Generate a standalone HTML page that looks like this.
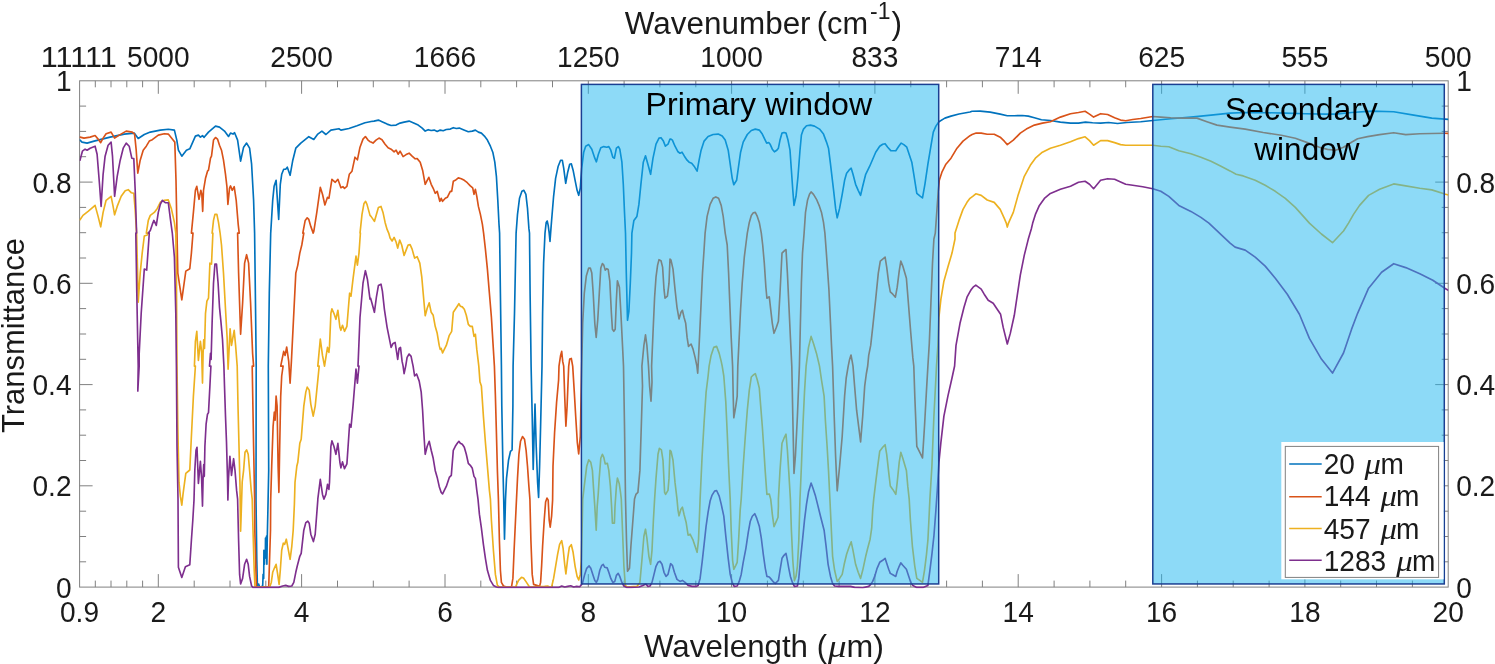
<!DOCTYPE html>
<html><head><meta charset="utf-8"><title>Transmittance</title>
<style>html,body{margin:0;padding:0;background:#fff}svg{display:block}text{font-family:"Liberation Sans",Arial,Helvetica,sans-serif;fill:#1a1a1a}text.mu{font-family:"Liberation Serif","DejaVu Serif",serif;font-style:italic}</style></head><body>
<svg width="1495" height="664" viewBox="0 0 1495 664">
<rect width="1495" height="664" fill="#fff"/>
<clipPath id="c"><rect x="79.6" y="79.8" width="1368.6" height="508.8"/></clipPath>
<g stroke="#808080" stroke-width="1" fill="none">
<rect x="79.6" y="80.8" width="1368.6" height="506.3"/>
<path d="M158.3 587.1 v-13 M158.3 80.8 v13 M301.6 587.1 v-13 M301.6 80.8 v13 M445.0 587.1 v-13 M445.0 80.8 v13 M588.3 587.1 v-13 M588.3 80.8 v13 M731.6 587.1 v-13 M731.6 80.8 v13 M874.9 587.1 v-13 M874.9 80.8 v13 M1018.2 587.1 v-13 M1018.2 80.8 v13 M1161.6 587.1 v-13 M1161.6 80.8 v13 M1304.9 587.1 v-13 M1304.9 80.8 v13 M95.3 587.1 v-6.5 M95.3 80.8 v6.5 M111.0 587.1 v-6.5 M111.0 80.8 v6.5 M126.8 587.1 v-6.5 M126.8 80.8 v6.5 M142.6 587.1 v-6.5 M142.6 80.8 v6.5 M194.2 587.1 v-6.5 M194.2 80.8 v6.5 M230.0 587.1 v-6.5 M230.0 80.8 v6.5 M265.8 587.1 v-6.5 M265.8 80.8 v6.5 M337.5 587.1 v-6.5 M337.5 80.8 v6.5 M373.3 587.1 v-6.5 M373.3 80.8 v6.5 M409.1 587.1 v-6.5 M409.1 80.8 v6.5 M480.8 587.1 v-6.5 M480.8 80.8 v6.5 M516.6 587.1 v-6.5 M516.6 80.8 v6.5 M552.5 587.1 v-6.5 M552.5 80.8 v6.5 M624.1 587.1 v-6.5 M624.1 80.8 v6.5 M659.9 587.1 v-6.5 M659.9 80.8 v6.5 M695.8 587.1 v-6.5 M695.8 80.8 v6.5 M767.4 587.1 v-6.5 M767.4 80.8 v6.5 M803.3 587.1 v-6.5 M803.3 80.8 v6.5 M839.1 587.1 v-6.5 M839.1 80.8 v6.5 M910.8 587.1 v-6.5 M910.8 80.8 v6.5 M946.6 587.1 v-6.5 M946.6 80.8 v6.5 M982.4 587.1 v-6.5 M982.4 80.8 v6.5 M1054.1 587.1 v-6.5 M1054.1 80.8 v6.5 M1089.9 587.1 v-6.5 M1089.9 80.8 v6.5 M1125.7 587.1 v-6.5 M1125.7 80.8 v6.5 M1197.4 587.1 v-6.5 M1197.4 80.8 v6.5 M1233.2 587.1 v-6.5 M1233.2 80.8 v6.5 M1269.1 587.1 v-6.5 M1269.1 80.8 v6.5 M1340.7 587.1 v-6.5 M1340.7 80.8 v6.5 M1376.5 587.1 v-6.5 M1376.5 80.8 v6.5 M1412.4 587.1 v-6.5 M1412.4 80.8 v6.5 M79.6 561.8 h6.5 M1448.2 561.8 h-6.5 M79.6 536.5 h6.5 M1448.2 536.5 h-6.5 M79.6 511.2 h6.5 M1448.2 511.2 h-6.5 M79.6 485.8 h13.0 M1448.2 485.8 h-13.0 M79.6 460.5 h6.5 M1448.2 460.5 h-6.5 M79.6 435.2 h6.5 M1448.2 435.2 h-6.5 M79.6 409.9 h6.5 M1448.2 409.9 h-6.5 M79.6 384.6 h13.0 M1448.2 384.6 h-13.0 M79.6 359.3 h6.5 M1448.2 359.3 h-6.5 M79.6 334.0 h6.5 M1448.2 334.0 h-6.5 M79.6 308.6 h6.5 M1448.2 308.6 h-6.5 M79.6 283.3 h13.0 M1448.2 283.3 h-13.0 M79.6 258.0 h6.5 M1448.2 258.0 h-6.5 M79.6 232.7 h6.5 M1448.2 232.7 h-6.5 M79.6 207.4 h6.5 M1448.2 207.4 h-6.5 M79.6 182.1 h13.0 M1448.2 182.1 h-13.0 M79.6 156.7 h6.5 M1448.2 156.7 h-6.5 M79.6 131.4 h6.5 M1448.2 131.4 h-6.5 M79.6 106.1 h6.5 M1448.2 106.1 h-6.5"/>
</g>
<g clip-path="url(#c)" fill="none" stroke-width="1.65" stroke-linejoin="round" stroke-linecap="round">
<polyline stroke="#0072BD" points="80.0,140.1 82.0,142.1 87.1,143.1 94.1,141.1 110.1,137.1 124.2,134.1 134.2,133.1 138.2,138.5 144.3,134.5 150.3,132.1 160.3,130.1 168.3,129.3 174.4,130.1 176.8,140.1 178.4,150.2 181.8,156.2 186.4,150.2 189.8,148.8 195.4,136.1 198.4,135.1 200.4,137.1 202.5,135.7 204.1,137.3 208.5,132.1 215.5,126.1 219.5,127.1 224.5,131.1 228.5,136.5 230.5,133.1 233.0,134.1 234.6,132.7 237.6,140.1 240.6,161.2 243.6,147.2 246.6,143.1 249.6,148.2 251.6,164.2 253.6,200.3 254.6,233.1 254.6,233.0 255.6,313.3 256.2,366.1 256.0,498.9 256.8,560.3 257.4,585.4 258.6,584.0 259.6,586.8 261.7,586.8 262.7,585.4 263.1,574.4 263.7,578.4 263.9,550.3 264.5,564.3 264.9,550.3 265.3,558.3 265.5,538.2 266.1,550.3 266.5,536.2 266.9,564.3 267.3,536.2 267.9,510.1 268.7,470.0 268.3,366.1 269.3,293.2 270.7,233.0 270.7,233.1 272.7,200.3 274.1,186.3 276.1,180.3 278.7,219.4 280.3,184.3 281.7,174.3 283.7,169.2 285.7,169.2 287.3,167.2 290.1,175.3 292.8,160.2 295.8,148.2 300.8,143.1 308.8,136.7 313.8,139.5 317.8,134.1 321.9,131.1 325.9,134.5 330.9,130.1 338.9,128.7 340.9,130.1 348.9,128.5 357.0,125.7 365.0,122.7 370.0,121.7 371.0,121.5 374.0,121.1 378.4,120.1 382.0,121.7 387.1,124.1 391.1,125.5 396.1,125.1 400.1,123.1 404.1,122.1 409.1,121.1 413.1,122.7 418.2,125.1 422.2,128.1 425.2,131.1 428.2,129.7 431.2,130.5 434.2,130.1 437.2,131.5 440.2,130.1 443.2,130.7 446.3,129.5 450.3,129.1 453.3,127.7 456.3,128.5 459.3,128.1 463.3,129.7 468.3,131.7 472.3,131.1 475.4,130.1 478.4,132.1 481.4,133.1 484.4,136.1 487.4,140.1 490.4,146.2 492.8,152.2 494.8,162.2 496.4,176.3 497.8,200.3 499.0,224.4 499.6,233.1 500.4,293.2 501.4,366.1 501.8,406.1 502.9,466.3 503.7,499.1 504.5,539.2 505.5,499.1 506.5,478.4 508.5,460.3 510.5,451.3 512.1,449.9 512.9,406.1 513.1,366.1 514.5,313.3 515.5,263.1 516.1,233.1 517.5,214.4 519.5,198.3 521.9,191.3 523.9,190.3 525.9,194.3 527.5,208.4 528.9,228.4 529.5,233.1 530.1,293.2 531.1,366.1 532.2,416.2 533.2,469.4 534.2,432.2 535.0,404.1 536.2,446.3 537.6,482.4 538.6,497.4 539.6,466.3 540.6,426.2 542.0,366.1 542.6,313.3 543.6,263.1 545.0,233.1 546.2,222.4 547.2,221.0 548.2,225.4 549.2,233.1 550.0,241.4 550.6,233.1 551.6,220.4 553.6,196.3 555.6,178.3 558.2,166.2 560.6,160.2 562.3,160.2 563.7,168.2 565.7,183.3 567.7,172.2 569.7,164.2 571.3,163.8 573.1,170.2 575.1,180.3 577.1,190.3 578.7,195.3 580.3,188.3 581.7,168.2 583.7,152.2 585.7,146.2 588.7,144.6 591.8,149.2 594.8,158.2 596.4,161.8 598.4,154.2 600.8,147.8 603.8,146.6 606.8,147.2 608.8,146.6 610.8,150.2 612.8,157.2 614.4,158.2 616.4,148.2 618.4,146.6 619.8,149.2 621.9,162.2 623.3,184.3 624.5,212.4 625.5,233.1 626.3,273.1 627.5,320.3 628.9,311.3 630.3,283.2 631.5,253.1 631.9,233.1 633.9,220.4 636.9,216.4 638.9,204.4 640.9,184.3 643.3,162.2 645.5,155.8 647.9,164.2 650.6,174.3 653.0,158.2 656.0,144.2 659.0,138.1 661.0,137.7 663.4,141.1 665.4,146.2 668.0,144.2 670.0,139.1 671.0,139.1 672.4,140.1 675.0,146.2 678.0,151.8 680.0,153.2 682.0,152.2 684.4,156.2 687.1,160.2 689.1,162.2 691.7,163.2 694.1,166.2 697.1,171.2 699.1,160.2 701.1,150.2 704.1,141.1 708.1,136.5 713.1,134.5 718.2,134.1 722.2,136.1 725.2,140.1 728.2,150.2 730.2,164.2 732.2,178.3 733.8,184.7 736.6,180.3 738.6,166.2 740.6,152.2 743.2,142.1 747.3,134.5 751.3,130.5 755.3,129.1 759.3,130.1 762.3,134.1 764.7,139.1 766.7,143.1 768.7,142.5 770.3,144.6 772.3,149.2 774.4,151.8 776.8,150.2 778.4,148.2 780.0,140.1 782.0,133.1 784.0,132.5 786.0,133.1 788.0,140.1 790.0,150.2 791.4,170.2 792.8,190.3 794.0,205.4 796.0,196.3 798.0,176.3 800.0,150.2 801.4,135.1 803.5,129.1 806.5,125.7 810.5,125.1 814.5,126.1 819.5,129.1 823.5,134.1 826.5,142.1 828.5,148.2 830.5,164.2 833.6,190.3 835.6,208.4 837.2,217.8 839.6,208.4 842.2,194.3 844.6,180.3 846.6,173.2 849.0,170.2 851.2,168.2 853.0,174.3 855.6,184.3 858.2,190.3 860.6,195.3 862.7,186.3 865.7,174.3 869.7,166.2 872.7,159.2 875.7,152.2 879.7,146.2 882.7,144.2 885.1,143.7 887.7,147.2 890.8,150.6 895.8,150.8 898.8,146.2 901.2,143.1 903.8,144.6 906.8,147.2 909.8,156.2 911.8,162.2 913.8,174.3 916.8,193.3 919.8,195.9 922.5,197.9 924.9,184.3 927.9,164.2 930.9,146.2 933.3,132.1 935.9,126.1 938.9,121.7 944.9,118.1 951.0,116.1 959.0,114.0 970.0,112.0 972.1,111.3 980.2,111.1 990.2,112.1 1000.2,114.1 1007.3,115.7 1014.3,115.7 1022.3,115.5 1028.3,116.1 1034.4,117.7 1041.4,119.7 1050.4,120.5 1060.4,122.1 1070.5,123.1 1078.5,123.1 1085.5,122.1 1092.6,122.7 1100.6,123.1 1108.6,122.5 1117.6,123.5 1126.7,122.5 1140.7,121.7 1152.8,120.5 1170.8,118.7 1190.9,117.1 1211.0,115.1 1230.0,113.1 1245.2,112.5 1265.2,112.7 1285.3,113.1 1305.4,113.7 1325.4,114.1 1335.5,114.1 1351.5,112.5 1371.6,111.1 1393.7,111.7 1413.7,115.1 1431.8,118.1 1444.8,119.1 1448.3,119.4"/>
<polyline stroke="#D95319" points="80.0,137.1 84.0,138.1 90.1,137.1 95.1,135.5 98.1,139.1 100.7,142.7 103.1,138.1 106.1,133.7 111.1,132.1 114.6,138.1 119.2,135.1 126.2,131.1 132.2,132.1 134.6,134.1 136.2,150.2 137.8,173.2 140.2,160.2 143.2,150.2 146.3,146.2 149.3,141.1 152.3,139.7 158.3,135.1 164.3,133.7 168.3,134.1 172.3,139.1 174.8,142.1 176.0,180.3 177.0,233.1 177.0,233.0 177.8,273.1 181.8,299.8 185.8,271.1 189.8,268.7 191.4,253.1 193.0,233.0 191.4,233.1 193.4,212.4 195.4,190.3 196.8,186.3 199.0,199.3 200.8,190.3 201.8,194.3 202.7,211.4 203.5,190.3 205.5,178.3 207.5,171.2 208.5,170.2 210.5,158.2 211.5,156.2 213.5,140.1 215.5,137.5 217.5,139.1 219.5,145.2 221.5,150.2 223.5,160.2 225.5,174.3 226.9,186.3 227.9,204.4 229.5,188.3 230.5,185.9 232.2,190.3 234.2,186.7 236.2,200.3 238.2,224.4 239.2,233.1 237.6,233.0 238.6,273.1 240.6,334.3 242.6,303.2 244.6,263.1 246.6,254.7 248.6,263.1 250.6,303.2 252.6,353.4 253.6,366.1 252.2,366.0 253.6,446.3 254.6,499.1 254.8,530.2 256.4,587.0 268.7,587.0 270.5,530.2 270.7,499.1 271.7,466.3 273.1,426.2 274.3,412.2 275.1,420.2 276.1,396.1 277.1,406.1 278.1,466.3 278.9,492.4 279.7,446.3 280.7,396.1 281.7,376.0 283.1,366.0 280.7,366.1 283.7,351.4 285.1,355.4 286.7,347.0 288.7,361.4 290.1,383.1 291.4,361.4 293.8,313.3 295.8,273.1 297.8,265.1 299.8,253.1 301.8,245.0 303.8,233.0 302.8,233.1 305.2,220.4 307.2,217.8 308.8,219.4 310.8,226.4 313.2,233.1 313.8,231.4 316.8,212.4 320.3,187.3 322.5,194.3 324.9,205.0 327.5,197.3 328.9,198.3 331.9,179.3 335.3,182.3 337.9,179.3 340.9,187.7 342.9,186.7 344.5,188.3 346.9,186.3 349.3,174.3 352.0,171.2 355.0,157.2 357.4,159.8 360.0,147.2 363.0,139.1 365.4,136.5 368.0,140.1 370.0,141.7 371.0,142.1 373.0,143.1 376.0,140.1 379.0,138.1 382.0,139.7 385.1,144.2 388.1,147.8 391.1,149.2 394.1,151.8 396.1,150.2 398.1,154.2 400.1,151.2 403.1,156.6 406.1,154.6 409.1,153.2 412.1,156.2 415.2,158.8 417.2,158.6 420.2,162.2 422.6,170.2 425.2,184.3 427.2,180.3 428.8,177.3 431.2,184.3 433.2,188.3 435.2,193.3 437.2,191.3 439.8,201.3 441.2,198.3 442.6,201.3 445.3,198.3 447.3,197.3 450.3,191.3 451.7,191.3 453.3,181.3 455.3,180.3 458.3,177.9 461.3,178.7 464.3,180.3 467.3,182.7 470.3,185.9 472.7,187.9 474.0,194.3 475.4,189.3 476.8,196.3 478.4,206.4 480.4,214.4 482.4,224.4 483.6,233.1 485.4,249.1 487.4,269.1 489.4,293.2 491.4,317.3 493.0,343.4 494.4,366.1 495.4,396.1 496.4,432.2 497.4,470.4 498.4,499.1 499.4,540.2 500.4,570.3 501.4,582.4 503.5,586.0 506.5,587.0 511.5,587.0 512.9,578.4 514.1,550.3 515.5,520.2 516.5,499.1 517.5,478.4 518.9,454.3 520.5,441.3 522.5,436.6 524.5,439.2 526.1,450.3 527.5,466.3 528.9,486.4 529.9,499.1 530.9,540.2 532.2,574.4 533.6,584.4 536.6,585.4 539.6,586.4 540.6,582.4 541.6,566.3 542.6,546.3 544.2,520.2 545.6,502.1 547.0,498.1 548.2,500.1 549.2,520.2 550.2,527.2 551.6,516.2 552.6,500.1 553.0,466.3 554.6,432.2 556.6,402.1 558.6,380.0 559.0,366.1 560.6,355.4 561.7,351.4 562.7,361.4 563.7,366.1 564.7,396.1 565.9,426.2 567.1,406.1 568.7,366.1 569.7,359.0 571.3,358.4 572.7,366.1 574.3,392.1 575.7,416.2 577.3,442.3 578.7,453.9 580.3,436.2 581.3,386.1 581.7,366.1 582.7,323.3 584.3,293.2 586.3,276.1 588.7,268.1 590.3,268.1 591.8,273.1 593.2,293.2 594.8,323.3 596.2,337.4 597.8,319.3 599.4,291.2 600.8,268.1 602.4,263.5 603.8,265.1 605.2,270.1 606.8,268.7 608.2,269.5 609.8,281.2 611.4,313.3 612.4,329.3 613.8,331.3 615.2,329.3 616.4,299.2 617.4,280.8 619.4,287.2 620.9,313.3 622.5,345.4 623.5,366.1 624.5,426.2 625.5,499.1 626.5,540.2 627.5,571.3 629.5,568.3 630.9,546.3 632.9,520.2 634.5,499.1 635.9,494.4 637.9,492.4 639.9,470.4 641.3,426.2 642.5,386.1 641.9,366.1 643.9,345.4 645.5,334.9 646.9,345.4 648.5,366.1 649.6,386.1 651.0,401.1 652.0,382.1 651.6,366.1 653.0,333.3 654.6,297.2 656.0,277.2 657.6,265.1 659.0,259.7 661.0,260.7 662.6,267.1 664.0,289.2 665.0,298.2 667.4,296.2 669.0,283.2 670.0,259.1 671.0,260.1 673.0,269.1 675.0,289.2 677.0,307.3 679.0,318.9 681.0,312.3 682.4,310.3 684.0,317.3 685.7,323.3 687.1,337.4 688.5,346.4 691.1,344.0 693.1,349.4 695.1,357.4 696.9,366.1 697.7,373.1 698.1,366.1 699.7,333.3 701.1,303.2 702.5,273.1 704.1,249.1 705.1,233.1 707.1,216.4 710.1,204.4 713.1,198.3 715.8,196.9 718.6,198.3 721.2,205.4 723.2,216.4 725.2,233.1 727.2,245.0 728.6,273.1 729.8,303.2 731.2,337.4 732.6,366.1 733.2,396.1 733.8,417.8 735.8,406.1 737.2,396.1 737.8,366.1 739.2,337.4 740.6,309.3 742.2,283.2 744.3,257.1 746.3,241.0 747.3,233.1 749.3,222.4 751.3,215.4 753.3,212.8 755.3,212.4 757.3,216.4 759.3,222.4 761.3,233.1 762.7,245.0 764.3,263.1 765.9,287.2 766.9,298.2 769.3,296.8 770.7,309.3 772.3,323.3 774.0,333.3 776.4,327.3 778.4,321.3 780.0,293.2 782.0,253.1 784.0,251.1 786.0,249.5 787.4,273.1 788.8,303.2 790.4,337.4 791.8,366.1 792.8,416.2 794.0,473.4 795.4,456.3 797.4,416.2 799.4,366.1 800.4,323.3 801.4,283.2 802.5,253.1 804.1,233.1 805.5,212.4 807.5,200.3 809.5,194.3 811.1,191.9 813.5,194.3 816.5,199.3 819.5,206.4 821.5,212.4 823.5,222.4 824.9,233.1 826.1,249.1 827.5,269.1 828.9,289.2 830.5,323.3 831.5,345.4 832.6,366.1 834.2,416.2 835.6,456.3 837.2,490.8 839.6,466.3 842.2,436.2 844.6,396.1 846.2,378.0 848.2,366.1 849.6,359.4 851.0,355.0 852.2,361.4 853.0,366.1 854.6,386.1 856.6,410.2 858.6,426.2 860.6,441.9 862.7,416.2 864.7,386.1 866.3,374.0 867.7,366.0 868.7,355.4 870.7,345.4 872.7,327.3 875.7,299.2 878.3,273.1 880.3,261.1 882.7,259.1 885.1,257.1 886.7,267.1 888.7,283.2 890.3,291.8 892.8,294.2 895.4,297.2 897.2,287.2 899.2,271.1 900.8,261.1 902.8,266.1 906.4,278.2 908.4,303.2 910.8,333.3 912.8,357.4 913.8,366.1 914.8,396.1 916.8,446.3 919.8,452.3 922.5,457.9 924.5,426.2 926.5,390.1 927.9,366.1 929.3,343.4 930.9,303.2 932.5,263.1 933.9,239.0 935.3,233.1 936.9,210.4 938.3,190.3 939.3,180.3 941.9,172.2 945.9,164.2 951.0,158.2 957.0,148.2 963.0,141.1 970.0,135.7 972.1,134.6 976.2,133.1 981.2,133.1 987.2,134.2 994.2,134.2 1000.2,137.2 1004.3,141.2 1007.3,144.6 1013.3,140.2 1020.3,133.1 1026.3,129.1 1034.4,125.1 1042.4,123.1 1050.4,121.7 1060.4,117.1 1070.5,113.7 1078.5,112.5 1085.1,111.3 1089.5,114.1 1093.6,117.1 1100.6,113.7 1107.6,114.5 1114.6,117.7 1120.6,120.1 1125.7,120.7 1132.7,119.5 1140.7,118.5 1152.8,116.5 1160.8,117.1 1170.8,117.7 1182.9,118.1 1196.9,118.1 1206.9,121.7 1217.0,125.1 1230.0,127.1 1245.2,129.1 1263.2,132.5 1281.3,135.2 1295.3,138.2 1307.4,142.6 1319.4,147.2 1327.5,149.4 1335.5,150.2 1343.5,147.2 1351.5,142.2 1357.6,138.8 1367.6,136.6 1379.6,134.6 1393.7,132.7 1405.7,134.6 1419.8,133.7 1431.8,133.5 1444.8,133.3 1448.3,133.3"/>
<polyline stroke="#EDB120" points="80.0,219.8 83.0,215.4 88.1,211.4 95.1,205.4 98.1,216.4 100.7,226.8 103.1,212.4 106.1,200.3 111.1,196.3 113.1,206.4 114.6,214.8 117.2,206.4 121.2,196.3 125.2,190.7 128.2,189.7 131.2,192.7 133.8,193.3 135.2,210.4 136.6,233.1 136.6,233.0 137.6,273.1 138.2,302.2 140.2,273.1 142.2,253.1 144.3,236.0 147.3,235.0 148.3,233.0 146.3,233.1 148.3,220.4 150.3,215.4 154.3,212.4 157.3,208.4 160.3,202.3 164.3,200.3 168.3,199.9 171.3,208.4 174.4,222.4 175.8,233.1 175.8,233.0 176.4,273.1 177.0,366.1 177.8,426.2 179.0,482.4 180.4,496.4 181.8,505.1 183.0,494.4 185.8,473.4 189.8,470.0 191.4,436.2 193.4,396.1 195.4,366.0 194.4,366.1 195.4,341.4 196.8,331.3 198.4,360.4 200.4,341.4 201.6,351.4 202.5,383.1 203.1,353.4 203.7,339.8 204.5,348.4 205.5,313.3 206.9,301.2 208.5,298.2 209.9,263.1 211.5,264.1 212.9,233.0 212.1,233.1 213.5,220.4 214.9,214.4 216.9,214.4 218.5,222.4 220.1,233.1 220.1,233.0 221.5,245.0 223.5,273.1 225.5,309.3 227.1,337.4 228.1,369.1 230.1,328.9 231.5,345.4 234.2,330.3 235.6,345.4 237.2,366.1 238.0,406.1 239.0,446.3 240.0,486.4 240.4,520.2 240.6,531.2 241.0,520.2 242.2,482.0 243.6,470.4 245.0,452.3 246.6,449.9 248.2,454.3 249.6,470.4 251.2,490.4 252.2,499.1 253.0,530.2 254.2,570.3 255.0,587.0 269.7,587.0 271.3,582.4 272.7,572.3 274.3,568.3 276.1,564.3 277.7,574.4 279.1,584.4 280.3,570.3 281.7,550.3 283.3,543.2 284.7,544.3 286.3,539.2 287.7,546.3 290.1,559.3 291.8,546.3 293.2,530.2 294.4,504.1 295.0,482.4 296.8,466.3 297.8,462.3 299.8,443.3 301.2,439.2 303.8,406.1 305.8,392.1 307.2,387.1 309.2,390.1 310.8,404.1 313.2,416.2 315.2,406.1 317.2,386.1 319.2,366.0 317.8,366.1 320.3,339.0 322.5,355.4 324.5,366.1 325.9,357.4 327.5,347.4 328.9,352.4 329.5,346.4 330.9,313.3 331.9,308.9 333.9,313.3 335.9,319.3 337.9,310.3 339.9,327.3 340.9,330.3 342.5,325.3 344.5,331.3 346.9,326.3 349.6,293.2 351.0,296.2 353.0,279.2 356.0,256.1 357.4,265.1 359.0,253.1 360.4,233.0 360.0,233.1 362.0,214.4 364.0,203.4 365.6,201.3 367.0,204.4 370.0,215.4 371.0,216.4 372.4,218.4 374.4,221.4 376.4,214.4 378.4,207.4 381.0,206.4 383.0,212.4 385.1,222.4 387.1,229.4 388.7,233.1 390.1,238.0 392.1,241.0 394.1,237.4 396.1,242.0 397.7,248.1 399.7,240.0 401.7,245.0 404.1,255.5 406.1,250.1 408.1,245.0 410.1,244.6 412.1,249.1 414.6,258.1 417.2,256.7 419.8,263.1 421.8,277.2 423.2,293.2 425.2,315.7 427.2,308.3 429.2,302.8 431.2,312.3 433.2,315.3 435.2,326.3 437.2,333.3 439.2,345.4 440.2,349.4 441.2,348.4 442.6,353.0 444.3,349.4 446.3,345.4 449.3,335.3 451.7,331.3 453.3,312.3 455.3,309.3 457.3,306.2 458.9,303.6 460.3,306.2 462.3,306.9 464.3,309.3 466.3,315.3 468.3,324.3 470.3,326.3 472.3,326.3 474.0,336.4 475.4,334.3 476.8,349.4 478.0,359.4 478.8,366.1 480.0,382.1 481.4,386.1 483.4,416.2 485.4,442.3 487.4,466.3 489.4,490.4 490.4,499.1 491.4,520.2 493.4,550.3 495.4,574.4 497.4,585.4 499.4,587.0 515.5,587.0 518.5,580.4 521.5,577.4 523.5,578.0 526.5,582.4 529.5,587.0 544.6,586.4 547.6,586.0 549.6,587.0 551.6,587.0 553.6,578.4 555.6,566.3 557.6,554.3 559.6,544.3 561.7,540.6 563.1,548.3 564.7,564.3 565.9,574.0 567.7,558.3 569.3,547.3 571.3,544.7 573.1,552.3 575.1,566.3 577.1,576.4 578.7,580.0 580.3,574.4 581.3,560.3 582.3,520.2 582.7,499.1 584.7,482.4 586.7,466.3 588.7,459.9 590.8,462.3 592.4,470.4 593.4,486.4 594.8,506.5 596.2,530.2 597.2,506.5 598.2,494.4 599.2,478.4 600.8,458.3 602.4,454.3 603.8,457.3 605.2,463.9 607.4,463.3 608.8,470.4 610.4,486.4 611.6,506.5 612.4,523.1 614.4,523.1 615.0,506.5 616.4,486.4 617.4,478.0 619.2,483.4 620.5,492.4 621.3,499.1 621.7,510.1 622.5,530.2 623.9,566.3 625.3,585.4 626.9,587.0 636.9,586.4 639.9,582.4 641.9,560.3 643.9,536.2 645.5,529.2 646.9,538.2 648.9,556.3 650.6,564.3 652.0,550.3 653.4,520.2 654.6,499.1 656.0,478.4 658.0,454.3 659.4,448.3 661.4,449.9 663.0,460.3 664.6,492.4 665.6,494.4 668.0,490.4 669.0,478.4 670.0,450.3 671.0,451.3 673.0,460.3 675.0,482.4 677.0,499.1 678.0,510.1 679.0,515.8 681.0,509.1 682.4,507.1 684.0,514.2 686.1,522.2 688.1,535.2 690.1,534.2 693.1,540.2 695.1,546.3 697.1,552.3 698.5,540.2 699.7,510.1 700.1,499.1 702.1,456.3 704.1,422.2 706.1,392.1 708.1,376.0 709.1,366.1 711.1,355.4 713.7,347.4 716.6,346.4 719.2,353.4 721.2,361.4 722.2,366.1 723.8,376.0 725.8,402.1 727.2,432.2 728.6,466.3 730.2,499.1 731.2,530.2 732.6,560.3 733.8,569.3 735.8,565.3 737.2,562.3 738.6,540.2 740.2,510.1 741.2,499.1 743.2,466.3 745.3,436.2 747.3,410.2 749.3,390.1 751.3,377.0 753.3,375.0 755.3,373.6 757.3,380.0 759.3,388.1 760.7,406.1 762.3,426.2 763.9,450.3 765.3,472.4 766.9,494.4 769.3,494.0 770.7,499.1 771.5,506.1 772.3,514.2 774.0,526.6 776.4,521.2 778.0,517.2 778.4,506.1 778.4,499.1 780.0,470.4 782.0,443.3 784.0,438.2 786.0,434.2 787.4,450.3 788.8,472.4 790.4,499.1 791.4,530.2 792.8,560.3 794.4,580.8 796.0,576.4 797.4,566.3 798.8,540.2 800.0,499.1 801.4,466.3 802.9,426.2 804.5,392.1 806.1,366.1 808.5,347.4 811.1,336.4 813.5,343.4 816.5,353.4 819.5,366.1 821.5,380.0 824.1,396.1 825.5,422.2 827.1,446.3 828.5,470.4 829.9,499.1 830.9,520.2 832.6,556.3 834.6,570.3 837.2,581.4 839.6,578.4 842.2,574.4 844.2,564.3 846.6,554.3 849.0,547.3 851.2,541.8 853.0,550.3 855.6,564.3 858.2,572.3 860.6,578.4 862.7,570.3 865.7,556.3 867.7,548.3 870.1,539.2 871.7,528.2 872.7,510.1 873.7,499.1 875.7,482.4 877.7,466.3 879.7,451.3 882.7,447.3 885.1,444.7 886.7,454.3 888.7,472.4 890.3,486.0 892.8,489.4 895.8,494.4 897.2,482.4 899.2,462.3 900.8,452.3 902.8,458.3 906.4,470.4 907.8,486.4 909.2,499.1 910.4,520.2 912.4,546.3 914.8,566.3 916.8,578.4 919.8,580.4 922.5,582.4 924.5,570.3 926.5,554.3 927.9,540.2 928.9,520.2 929.9,499.1 931.9,466.3 933.9,416.2 935.9,378.0 936.5,366.1 937.9,345.4 938.9,317.3 940.9,299.2 943.9,281.2 947.9,267.1 952.0,253.1 955.0,239.0 955.0,233.1 959.0,220.4 963.0,209.4 967.0,202.3 970.0,198.3 972.7,196.4 975.8,193.8 981.2,195.4 987.2,200.0 994.2,202.4 1000.2,209.4 1004.3,218.4 1006.3,223.1 1007.3,227.1 1008.5,223.1 1009.7,220.4 1013.3,212.4 1018.3,194.4 1024.3,176.3 1030.3,165.3 1035.4,158.2 1042.4,152.2 1050.4,148.2 1060.4,145.2 1070.5,141.8 1078.5,138.6 1085.1,136.8 1089.5,140.6 1093.6,145.2 1100.6,140.6 1107.6,140.6 1114.6,142.6 1120.6,144.6 1125.7,145.2 1140.7,145.2 1152.8,145.2 1160.8,146.2 1168.8,146.8 1178.8,150.8 1190.9,153.8 1200.9,157.2 1211.0,161.2 1221.0,166.3 1230.0,170.9 1236.1,174.3 1243.2,175.9 1255.2,180.3 1265.2,185.3 1275.3,191.3 1285.3,198.4 1295.3,207.4 1303.4,216.4 1309.4,223.1 1321.4,234.0 1332.5,242.7 1343.5,231.0 1348.5,223.1 1353.5,214.4 1359.6,205.4 1368.6,195.4 1379.6,189.3 1393.7,183.9 1405.7,185.9 1419.8,188.3 1431.8,189.9 1444.8,194.0 1448.3,195.0"/>
<polyline stroke="#7E2F8E" points="80.0,160.2 82.4,151.2 85.1,149.2 87.1,150.2 90.1,148.2 95.1,146.2 97.1,154.2 99.5,184.3 101.1,206.4 103.1,174.3 105.1,156.2 108.1,145.2 111.1,142.1 112.5,156.2 114.6,196.3 117.2,176.3 120.2,160.2 123.2,148.2 126.2,143.1 129.2,146.2 131.8,158.2 133.8,158.6 135.2,190.3 136.6,233.1 135.8,233.0 136.8,293.2 138.2,366.1 137.8,391.1 139.2,366.0 139.2,353.4 141.2,313.3 144.3,269.1 146.7,270.1 149.3,233.0 148.3,233.1 150.3,230.4 152.3,224.4 153.9,220.4 156.3,225.4 158.3,212.4 160.3,204.4 162.3,200.3 165.3,202.7 168.3,202.7 170.3,218.4 172.3,233.1 172.3,233.0 174.4,257.1 175.8,313.3 176.4,366.1 177.0,446.3 178.0,499.1 178.4,567.3 181.8,577.4 185.4,566.7 189.8,564.7 191.4,540.2 192.8,520.2 194.0,500.1 194.8,470.4 196.0,450.3 197.0,447.3 198.4,483.4 200.4,461.3 201.6,478.4 202.5,506.1 203.1,478.4 203.7,464.7 204.3,476.4 204.9,446.3 206.1,424.2 207.5,414.2 208.5,412.6 209.9,386.1 210.9,366.0 209.5,366.1 210.5,353.4 211.1,359.4 212.1,323.3 213.5,283.2 214.9,264.1 216.5,264.1 218.1,283.2 219.5,307.3 220.9,321.3 222.5,339.4 223.9,366.1 224.5,386.1 225.5,416.2 226.5,442.3 227.5,478.4 227.9,500.1 228.5,478.4 229.9,456.3 231.5,475.4 233.6,458.7 235.0,470.4 236.6,490.4 237.6,499.1 238.6,540.2 239.6,574.4 240.6,584.0 242.6,578.4 244.6,564.3 246.6,559.3 248.2,564.3 249.6,576.4 251.6,586.0 253.0,587.4 278.7,587.4 282.7,586.0 285.7,585.4 288.7,586.4 291.8,586.0 293.8,582.4 295.8,572.3 297.2,566.3 299.8,556.3 301.2,553.3 303.8,530.2 305.8,522.6 307.8,521.2 309.2,523.2 310.8,534.2 313.4,541.6 315.2,534.2 317.8,500.1 317.8,499.1 320.3,479.4 322.5,494.4 323.9,499.1 325.9,494.4 327.5,484.4 328.9,489.4 329.5,482.4 330.9,446.3 331.9,440.9 333.9,446.3 335.9,454.3 337.9,443.3 339.9,462.3 340.9,467.9 342.5,461.9 344.5,468.7 346.9,463.9 349.6,424.2 351.0,427.2 353.0,406.1 356.0,369.0 357.4,383.1 359.0,366.0 358.0,366.1 360.0,317.3 363.0,283.2 365.4,270.7 367.4,279.2 370.0,299.2 370.6,298.2 372.0,303.2 374.4,312.3 376.4,297.2 378.4,285.6 381.0,284.2 382.4,291.2 384.4,309.3 387.1,327.3 389.1,337.4 391.1,347.4 393.1,343.4 395.1,342.4 396.5,351.4 397.7,359.4 399.1,348.4 400.5,347.4 402.1,361.4 403.1,366.1 404.1,373.6 405.7,366.1 407.1,357.4 409.1,354.0 411.1,356.4 412.5,363.4 413.1,366.1 414.6,376.0 416.6,374.0 419.2,381.1 421.2,392.1 422.6,410.2 423.8,432.2 425.2,454.3 427.2,446.3 429.2,441.3 431.2,450.3 433.2,458.3 435.2,470.4 437.2,477.4 439.2,486.4 441.2,492.4 442.6,494.0 444.3,490.4 446.3,486.4 449.3,477.4 451.3,475.4 453.3,450.3 455.3,446.3 457.3,443.3 458.9,441.3 460.3,443.3 462.3,444.3 464.3,447.3 466.3,454.3 468.3,463.3 470.3,465.3 472.3,468.3 474.0,476.4 475.4,478.4 476.8,490.4 478.0,499.1 479.4,514.2 481.4,528.2 483.4,544.3 485.4,558.3 487.4,570.3 490.4,580.4 493.4,585.4 496.4,587.0 498.4,587.4 558.6,587.4 561.7,586.0 564.7,587.0 567.7,586.4 570.7,585.8 573.7,587.0 576.7,586.4 579.7,586.8 581.7,584.4 582.7,582.4 584.7,574.4 586.7,568.3 589.1,565.9 590.8,568.3 592.8,574.4 594.8,580.4 596.4,582.4 597.8,579.4 599.8,570.3 601.8,565.3 603.2,564.3 604.8,567.3 607.2,567.9 608.8,572.3 610.8,578.4 612.8,582.4 614.8,581.4 616.4,575.4 618.2,573.4 619.8,576.4 621.9,582.4 623.9,586.0 626.9,587.4 630.9,587.4 638.9,587.0 642.9,585.4 645.9,584.0 647.9,586.4 650.0,586.0 652.0,582.4 654.0,574.4 656.0,566.3 658.0,562.3 660.0,561.3 662.0,564.3 664.0,572.3 666.0,576.4 668.0,574.4 670.0,566.3 670.6,563.7 672.4,565.3 674.4,572.3 677.0,579.4 680.0,581.4 682.4,580.4 685.1,582.4 688.1,585.4 692.1,586.4 696.1,586.4 698.1,585.4 700.1,578.4 702.1,562.3 704.1,544.3 706.1,526.2 708.1,512.1 710.1,501.1 712.1,495.1 714.6,491.1 716.6,490.5 719.2,496.1 721.2,504.1 723.8,516.2 725.8,536.2 728.2,558.3 730.2,574.4 732.2,582.4 734.2,586.4 737.2,586.0 739.2,581.4 741.2,574.4 743.2,562.3 745.9,548.3 748.3,532.2 750.3,521.2 752.3,516.2 754.7,513.7 756.7,518.2 759.3,526.2 761.3,538.2 763.3,554.3 765.3,568.3 766.9,576.4 769.3,577.0 771.3,579.4 773.4,582.0 775.4,583.4 778.4,580.4 780.0,570.3 782.0,558.3 784.0,555.3 786.0,553.3 787.4,560.3 788.8,568.3 790.4,576.4 792.4,582.4 794.4,586.4 797.4,586.0 798.8,578.4 800.4,560.3 802.5,540.2 804.5,520.2 806.5,504.1 808.5,492.1 811.1,483.0 812.9,488.1 815.5,496.1 817.5,504.1 820.5,516.2 824.1,530.2 826.1,546.3 828.1,564.3 830.5,576.4 832.6,583.4 834.6,586.0 838.6,586.4 850.6,586.4 854.6,587.4 862.7,587.7 868.7,586.4 870.7,584.4 872.7,581.4 874.7,576.4 877.1,568.3 879.7,562.3 882.7,560.3 885.1,558.3 886.7,563.3 888.7,569.3 890.3,573.4 892.8,574.8 895.8,576.4 897.2,571.3 899.2,566.3 900.8,562.9 902.8,565.3 906.4,569.3 908.8,576.4 910.8,582.4 912.8,585.4 916.8,587.4 922.9,587.4 927.9,585.4 929.9,570.3 931.9,554.3 933.9,536.2 935.9,510.1 937.3,490.1 938.5,470.0 938.9,462.3 940.9,442.3 943.9,416.2 947.9,396.1 952.0,378.0 954.6,366.0 956.0,345.4 960.0,323.3 964.0,307.3 967.0,297.2 970.0,291.6 971.1,289.8 973.1,287.2 975.8,285.2 981.2,289.2 984.2,294.2 988.2,300.3 993.2,303.3 997.2,309.3 1000.6,314.3 1003.2,327.4 1007.3,344.0 1010.3,333.4 1014.3,315.3 1017.3,295.2 1020.3,275.2 1024.3,255.1 1028.3,239.1 1031.3,229.0 1032.7,223.1 1035.4,214.4 1039.4,205.4 1044.4,198.4 1050.4,193.4 1060.4,189.3 1070.5,186.3 1078.5,182.3 1085.1,181.3 1089.5,184.3 1093.6,188.7 1100.6,180.3 1107.6,178.7 1114.6,179.3 1120.6,181.9 1125.7,184.3 1132.7,185.3 1142.7,186.7 1152.8,188.7 1160.8,191.3 1168.8,196.4 1178.8,205.4 1190.9,211.4 1200.9,217.4 1208.9,223.1 1230.1,243.1 1235.1,247.1 1245.2,250.1 1255.2,257.1 1265.2,266.1 1275.3,278.2 1287.3,294.2 1299.4,314.3 1309.4,338.4 1321.4,359.1 1332.5,373.1 1343.5,353.0 1351.5,329.4 1357.6,313.3 1368.6,288.2 1381.6,272.2 1393.7,263.7 1405.7,267.6 1419.8,273.8 1432.8,280.2 1444.8,288.2 1448.3,290.4"/>
</g>
<g fill="#1cb5ef" fill-opacity="0.5" stroke="#1b3f92" stroke-width="1.5">
<rect x="581.4" y="84.4" width="357.3" height="499.55"/>
<rect x="1152.8" y="84.4" width="291.5" height="499.55"/>
</g>
<rect x="1281.3" y="442" width="162.3" height="137.3" fill="#fff"/>
<rect x="1285.3" y="446.4" width="153.3" height="131" fill="#fff" stroke="#808080" stroke-width="1"/>
<line x1="1289.2" x2="1321.7" y1="463.9" y2="463.9" stroke="#0072BD" stroke-width="1.5"/>
<text transform="translate(1323.7,474.2) scale(0.936,1)" font-size="30.0" text-anchor="start">20</text>
<text transform="translate(1364.6,474.2) scale(1.150,1)" font-size="28.5" class="mu">μ</text>
<text transform="translate(1380.5,474.2) scale(0.936,1)" font-size="30.0" text-anchor="start">m</text>
<line x1="1289.2" x2="1321.7" y1="496.8" y2="496.8" stroke="#D95319" stroke-width="1.5"/>
<text transform="translate(1323.7,506.2) scale(0.936,1)" font-size="30.0" text-anchor="start">144</text>
<text transform="translate(1380.4,506.2) scale(1.150,1)" font-size="28.5" class="mu">μ</text>
<text transform="translate(1396.1,506.2) scale(0.936,1)" font-size="30.0" text-anchor="start">m</text>
<line x1="1289.2" x2="1321.7" y1="528.5" y2="528.5" stroke="#EDB120" stroke-width="1.5"/>
<text transform="translate(1323.7,539.0) scale(0.936,1)" font-size="30.0" text-anchor="start">457</text>
<text transform="translate(1380.4,539.0) scale(1.150,1)" font-size="28.5" class="mu">μ</text>
<text transform="translate(1396.1,539.0) scale(0.936,1)" font-size="30.0" text-anchor="start">m</text>
<line x1="1289.2" x2="1321.7" y1="560.2" y2="560.2" stroke="#7E2F8E" stroke-width="1.5"/>
<text transform="translate(1323.7,571.0) scale(0.936,1)" font-size="30.0" text-anchor="start">1283</text>
<text transform="translate(1396.3,571.0) scale(1.150,1)" font-size="28.5" class="mu">μ</text>
<text transform="translate(1412.0,571.0) scale(0.936,1)" font-size="30.0" text-anchor="start">m</text>
<text transform="translate(79.5,622.2) scale(0.936,1)" font-size="30.0" text-anchor="middle">0.9</text>
<text transform="translate(158.3,622.2) scale(0.936,1)" font-size="30.0" text-anchor="middle">2</text>
<text transform="translate(301.6,622.2) scale(0.936,1)" font-size="30.0" text-anchor="middle">4</text>
<text transform="translate(445.0,622.2) scale(0.936,1)" font-size="30.0" text-anchor="middle">6</text>
<text transform="translate(588.3,622.2) scale(0.936,1)" font-size="30.0" text-anchor="middle">8</text>
<text transform="translate(731.6,622.2) scale(0.936,1)" font-size="30.0" text-anchor="middle">10</text>
<text transform="translate(874.9,622.2) scale(0.936,1)" font-size="30.0" text-anchor="middle">12</text>
<text transform="translate(1018.2,622.2) scale(0.936,1)" font-size="30.0" text-anchor="middle">14</text>
<text transform="translate(1161.6,622.2) scale(0.936,1)" font-size="30.0" text-anchor="middle">16</text>
<text transform="translate(1304.9,622.2) scale(0.936,1)" font-size="30.0" text-anchor="middle">18</text>
<text transform="translate(1448.2,622.2) scale(0.936,1)" font-size="30.0" text-anchor="middle">20</text>
<text transform="translate(78.7,67.4) scale(1.020,1)" font-size="30.0" text-anchor="middle">11111</text>
<text transform="translate(158.3,67.4) scale(0.936,1)" font-size="30.0" text-anchor="middle">5000</text>
<text transform="translate(301.6,67.4) scale(0.936,1)" font-size="30.0" text-anchor="middle">2500</text>
<text transform="translate(445.0,67.4) scale(0.936,1)" font-size="30.0" text-anchor="middle">1666</text>
<text transform="translate(588.3,67.4) scale(0.936,1)" font-size="30.0" text-anchor="middle">1250</text>
<text transform="translate(731.6,67.4) scale(0.936,1)" font-size="30.0" text-anchor="middle">1000</text>
<text transform="translate(874.9,67.4) scale(0.936,1)" font-size="30.0" text-anchor="middle">833</text>
<text transform="translate(1018.2,67.4) scale(0.936,1)" font-size="30.0" text-anchor="middle">714</text>
<text transform="translate(1161.6,67.4) scale(0.936,1)" font-size="30.0" text-anchor="middle">625</text>
<text transform="translate(1304.9,67.4) scale(0.936,1)" font-size="30.0" text-anchor="middle">555</text>
<text transform="translate(1448.2,67.4) scale(0.936,1)" font-size="30.0" text-anchor="middle">500</text>
<text transform="translate(71.5,597.6) scale(0.936,1)" font-size="30.0" text-anchor="end">0</text>
<text transform="translate(1456.2,597.6) scale(0.936,1)" font-size="30.0" text-anchor="start">0</text>
<text transform="translate(71.5,496.3) scale(0.936,1)" font-size="30.0" text-anchor="end">0.2</text>
<text transform="translate(1456.2,496.3) scale(0.936,1)" font-size="30.0" text-anchor="start">0.2</text>
<text transform="translate(71.5,395.1) scale(0.936,1)" font-size="30.0" text-anchor="end">0.4</text>
<text transform="translate(1456.2,395.1) scale(0.936,1)" font-size="30.0" text-anchor="start">0.4</text>
<text transform="translate(71.5,293.8) scale(0.936,1)" font-size="30.0" text-anchor="end">0.6</text>
<text transform="translate(1456.2,293.8) scale(0.936,1)" font-size="30.0" text-anchor="start">0.6</text>
<text transform="translate(71.5,192.6) scale(0.936,1)" font-size="30.0" text-anchor="end">0.8</text>
<text transform="translate(1456.2,192.6) scale(0.936,1)" font-size="30.0" text-anchor="start">0.8</text>
<text transform="translate(71.5,91.3) scale(0.936,1)" font-size="30.0" text-anchor="end">1</text>
<text transform="translate(1456.2,91.3) scale(0.936,1)" font-size="30.0" text-anchor="start">1</text>
<text transform="translate(644.0,657.0) scale(0.990,1)" font-size="31.6" text-anchor="start">Wavelength</text>
<text transform="translate(816.8,657.0) scale(0.978,1)" font-size="31.6" text-anchor="start">(</text>
<text transform="translate(828.1,657.0) scale(1.200,1)" font-size="30.9" class="mu">μ</text>
<text transform="translate(846.5,657.0) scale(1.016,1)" font-size="31.6" text-anchor="start">m)</text>
<text transform="translate(624.8,34.0) scale(0.995,1)" font-size="31.6" text-anchor="start">Wavenumber</text>
<text transform="translate(816.8,34.0) scale(0.973,1)" font-size="31.6" text-anchor="start">(cm</text>
<text transform="translate(870.0,19.0) scale(0.955,1)" font-size="24.0" text-anchor="start">-1</text>
<text transform="translate(891.5,34.0) scale(0.999,1)" font-size="31.6" text-anchor="start">)</text>
<text transform="translate(24.2,335.5) rotate(-90) scale(0.980,1)" font-size="31.6" text-anchor="middle">Transmittance</text>
<text transform="translate(758.8,115.4) scale(1.016,1)" font-size="31.6" text-anchor="middle" style="fill:#000">Primary window</text>
<text transform="translate(1301.4,120.2) scale(1.012,1)" font-size="31.6" text-anchor="middle" style="fill:#000">Secondary</text>
<text transform="translate(1306.9,160.3) scale(0.998,1)" font-size="31.6" text-anchor="middle" style="fill:#000">window</text>
</svg></body></html>
